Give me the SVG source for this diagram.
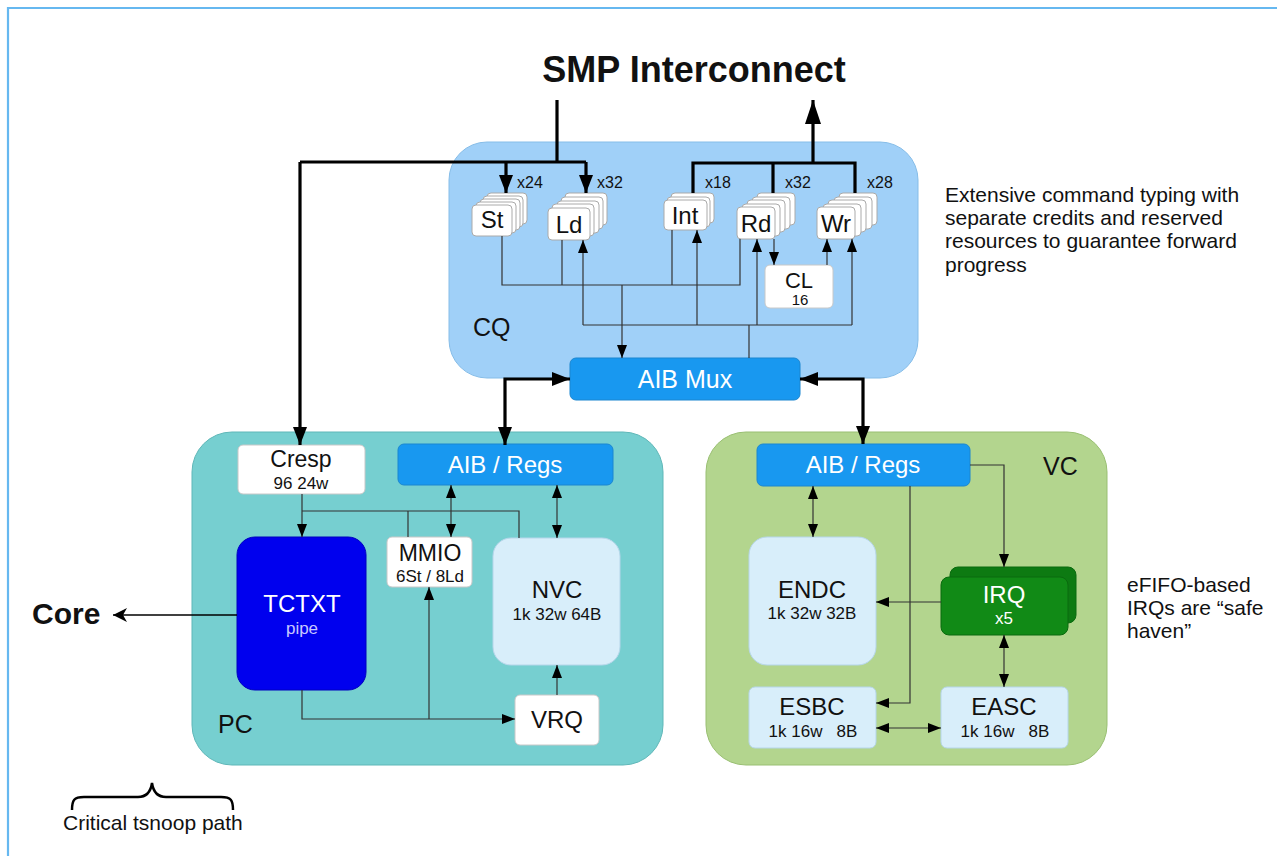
<svg xmlns="http://www.w3.org/2000/svg" width="1277" height="856" viewBox="0 0 1277 856">
<style>
text{font-family:"Liberation Sans",Arial,Helvetica,sans-serif;fill:#111}
.c{text-anchor:middle}
.w{fill:#fff}
.big{font-size:24px}
.sub{font-size:17px}
.thin{stroke:#333;stroke-width:1.2;fill:none}
.thick{stroke:#000;stroke-width:3.2;fill:none}
.wbox{fill:#fff;stroke:#c8c8c8;stroke-width:1}
.lbox{fill:#d8eefa;stroke:#b6d6ea;stroke-width:1}
.aib{fill:#1898f0;stroke:#1a86d0;stroke-width:1}
.q{fill:#fff;stroke:#aaa;stroke-width:1}
.note{font-size:21px}
</style>
<defs>
<marker id="a" markerUnits="userSpaceOnUse" markerWidth="13" markerHeight="10" refX="13" refY="5" orient="auto-start-reverse"><path d="M0,0 L13,5 L0,10 z" fill="#000"/></marker>
<marker id="b" markerUnits="userSpaceOnUse" markerWidth="18" markerHeight="14" refX="18" refY="7" orient="auto-start-reverse"><path d="M0,0 L18,7 L0,14 z" fill="#000"/></marker>
<marker id="c" markerUnits="userSpaceOnUse" markerWidth="24" markerHeight="16" refX="24" refY="8" orient="auto-start-reverse"><path d="M0,0 L24,8 L0,16 z" fill="#000"/></marker>
<marker id="k" markerUnits="userSpaceOnUse" markerWidth="14" markerHeight="14" refX="14" refY="7" orient="auto"><path d="M0,0 L14,7 L0,14 L4,7 z" fill="#000"/></marker>
</defs>

<path id="frame" d="M8,856 V8 H1277" stroke="#66b8f0" stroke-width="2.2" fill="none"/>

<g id="titles">
<text x="694" y="82" class="c" style="font-size:36px;font-weight:bold">SMP Interconnect</text>
<text x="32" y="624" style="font-size:30px;font-weight:bold">Core</text>
</g>

<g id="CQ">
<rect x="449" y="142" width="469" height="236" rx="38" fill="#a0d0f8" stroke="#86bde8" stroke-width="1"/>
<text x="473" y="336" style="font-size:25px">CQ</text>
</g>

<g id="PC">
<rect x="192" y="432" width="471" height="333" rx="40" fill="#76cfd0" stroke="#5fb7b8" stroke-width="1"/>
<text x="218" y="733" style="font-size:25px">PC</text>
</g>

<g id="VC">
<rect x="706" y="432" width="401" height="333" rx="40" fill="#b3d58e" stroke="#99bf72" stroke-width="1"/>
<text x="1043" y="475" style="font-size:25px">VC</text>
</g>

<g id="St">
<rect class="q" x="487" y="193" width="40" height="31" rx="4"/>
<rect class="q" x="483" y="196" width="40" height="31" rx="4"/>
<rect class="q" x="480" y="199" width="40" height="31" rx="4"/>
<rect class="q" x="476" y="202" width="40" height="31" rx="4"/>
<rect class="q" x="472" y="205" width="40" height="31" rx="4"/>
<text x="492" y="228" class="c big">St</text>
<text x="517" y="188" style="font-size:16px">x24</text>
</g>
<g id="Ld">
<rect class="q" x="565" y="193" width="42" height="32" rx="4"/>
<rect class="q" x="561" y="197" width="42" height="32" rx="4"/>
<rect class="q" x="557" y="201" width="42" height="32" rx="4"/>
<rect class="q" x="552" y="204" width="42" height="32" rx="4"/>
<rect class="q" x="548" y="208" width="42" height="32" rx="4"/>
<text x="569" y="233" class="c big">Ld</text>
<text x="597" y="188" style="font-size:16px">x32</text>
</g>
<g id="Int">
<rect class="q" x="671" y="193" width="43" height="30" rx="4"/>
<rect class="q" x="667" y="197" width="43" height="30" rx="4"/>
<rect class="q" x="664" y="200" width="43" height="30" rx="4"/>
<text x="685" y="224" class="c big">Int</text>
<text x="705" y="188" style="font-size:16px">x18</text>
</g>
<g id="Rd">
<rect class="q" x="757" y="193" width="38" height="32" rx="4"/>
<rect class="q" x="752" y="197" width="38" height="32" rx="4"/>
<rect class="q" x="747" y="200" width="38" height="32" rx="4"/>
<rect class="q" x="742" y="204" width="38" height="32" rx="4"/>
<rect class="q" x="737" y="207" width="38" height="32" rx="4"/>
<text x="756" y="232" class="c big">Rd</text>
<text x="785" y="188" style="font-size:16px">x32</text>
</g>
<g id="Wr">
<rect class="q" x="839" y="193" width="38" height="32" rx="4"/>
<rect class="q" x="834" y="197" width="38" height="32" rx="4"/>
<rect class="q" x="828" y="200" width="38" height="32" rx="4"/>
<rect class="q" x="823" y="204" width="38" height="32" rx="4"/>
<rect class="q" x="817" y="207" width="38" height="32" rx="4"/>
<text x="836" y="232" class="c big">Wr</text>
<text x="867" y="188" style="font-size:16px">x28</text>
</g>
<g id="CL">
<rect class="wbox" x="765" y="265" width="68" height="43" rx="5"/>
<text x="799" y="288" class="c" style="font-size:22px">CL</text>
<text x="800" y="305" class="c" style="font-size:15px">16</text>
</g>
<g id="AIBMux">
<rect class="aib" x="570" y="358" width="230" height="42" rx="6"/>
<text x="685" y="388" class="c w" style="font-size:25px">AIB Mux</text>
</g>

<g id="Cresp">
<rect class="wbox" x="238" y="445" width="127" height="49" rx="5"/>
<text x="301" y="467" class="c" style="font-size:23px">Cresp</text>
<text x="301" y="489" class="c sub">96 24w</text>
</g>
<g id="PCAIB">
<rect class="aib" x="398" y="444" width="215" height="41" rx="6"/>
<text x="505" y="473" class="c w" style="font-size:24px">AIB / Regs</text>
</g>
<g id="TCTXT">
<rect x="237" y="537" width="129" height="153" rx="18" fill="#0000ee" stroke="#0000c0" stroke-width="1"/>
<text x="302" y="612" class="c w" style="font-size:24px">TCTXT</text>
<text x="302" y="634" class="c" style="font-size:17px;fill:#c8c8ff">pipe</text>
</g>
<g id="MMIO">
<rect class="wbox" x="387" y="537" width="85" height="50" rx="5"/>
<text x="430" y="561" class="c" style="font-size:23px">MMIO</text>
<text x="430" y="582" class="c sub">6St / 8Ld</text>
</g>
<g id="NVC">
<rect class="lbox" x="493" y="538" width="127" height="127" rx="18"/>
<text x="557" y="598" class="c big">NVC</text>
<text x="557" y="620" class="c sub">1k 32w 64B</text>
</g>
<g id="VRQ">
<rect class="wbox" x="515" y="695" width="84" height="50" rx="5"/>
<text x="557" y="728" class="c big">VRQ</text>
</g>

<g id="VCAIB">
<rect class="aib" x="757" y="444" width="213" height="42" rx="6"/>
<text x="863" y="473" class="c w" style="font-size:24px">AIB / Regs</text>
</g>
<g id="ENDC">
<rect class="lbox" x="749" y="537" width="127" height="128" rx="18"/>
<text x="812" y="598" class="c big">ENDC</text>
<text x="812" y="619" class="c sub">1k 32w 32B</text>
</g>
<g id="IRQ">
<rect x="950" y="567" width="126" height="56" rx="8" fill="#0d7a12" stroke="#0a6a0e" stroke-width="1"/>
<rect x="941" y="577" width="127" height="58" rx="8" fill="#118a16" stroke="#0a6a0e" stroke-width="1"/>
<text x="1004" y="603" class="c w" style="font-size:24px">IRQ</text>
<text x="1004" y="624" class="c w sub">x5</text>
</g>
<g id="ESBC">
<rect class="lbox" x="749" y="687" width="127" height="61" rx="6"/>
<text x="812" y="715" class="c big">ESBC</text>
<text x="813" y="737" class="c sub" xml:space="preserve">1k 16w   8B</text>
</g>
<g id="EASC">
<rect class="lbox" x="941" y="687" width="127" height="61" rx="6"/>
<text x="1004" y="715" class="c big">EASC</text>
<text x="1005" y="737" class="c sub" xml:space="preserve">1k 16w   8B</text>
</g>

<g id="connectors">
<path class="thick" d="M557,100 V162"/>
<path class="thick" d="M300,162 H586"/>
<path class="thick" d="M506,162 V193" marker-end="url(#b)"/>
<path class="thick" d="M586,162 V193" marker-end="url(#b)"/>
<path class="thick" d="M300,162 V445" marker-end="url(#b)"/>
<path class="thick" d="M693,193 V163 H855 V193"/>
<path class="thick" d="M773,163 V193"/>
<path class="thick" d="M813,163 V100" marker-end="url(#c)"/>
<path class="thick" d="M505,445 V379 H570" marker-start="url(#b)" marker-end="url(#b)"/>
<path class="thick" d="M863,444 V379 H800" marker-start="url(#b)" marker-end="url(#b)"/>

<path class="thin" d="M502,236 V285 H740 V239"/>
<path class="thin" d="M562,240 V285"/>
<path class="thin" d="M672,230 V285"/>
<path class="thin" d="M622,285 V358" marker-end="url(#a)"/>
<path class="thin" d="M749,358 V325"/>
<path class="thin" d="M583,325 H852"/>
<path class="thin" d="M583,325 V240" marker-end="url(#a)"/>
<path class="thin" d="M697,325 V230" marker-end="url(#a)"/>
<path class="thin" d="M757,325 V239" marker-end="url(#a)"/>
<path class="thin" d="M852,325 V239" marker-end="url(#a)"/>
<path class="thin" d="M774,239 V265" marker-end="url(#a)"/>
<path class="thin" d="M827,265 V239" marker-end="url(#a)"/>

<path class="thin" d="M302,494 V537" marker-end="url(#a)"/>
<path class="thin" d="M302,511 H519 V538"/>
<path class="thin" d="M408,511 V537"/>
<path class="thin" d="M451,485 V537" marker-start="url(#a)" marker-end="url(#a)"/>
<path class="thin" d="M557,485 V538" marker-start="url(#a)" marker-end="url(#a)"/>
<path class="thin" d="M302,690 V719 H515" marker-end="url(#a)"/>
<path class="thin" d="M429,719 V587" marker-end="url(#a)"/>
<path class="thin" d="M557,695 V665" marker-end="url(#a)"/>
<path d="M237,615 H113" stroke="#000" stroke-width="1.3" fill="none" marker-end="url(#k)"/>

<path class="thin" d="M813,486 V537" marker-start="url(#a)" marker-end="url(#a)"/>
<path class="thin" d="M910,486 V703 H876" marker-end="url(#a)"/>
<path class="thin" d="M970,465 H1004 V567" marker-end="url(#a)"/>
<path class="thin" d="M941,602 H876" marker-end="url(#a)"/>
<path class="thin" d="M1004,635 V687" marker-start="url(#a)" marker-end="url(#a)"/>
<path class="thin" d="M876,728 H941" marker-start="url(#a)" marker-end="url(#a)"/>
</g>

<g id="notes">
<text x="945" y="202" class="note">Extensive command typing with</text>
<text x="945" y="225" class="note">separate credits and reserved</text>
<text x="945" y="248" class="note">resources to guarantee forward</text>
<text x="945" y="272" class="note">progress</text>
<text x="1127" y="592" class="note">eFIFO-based</text>
<text x="1127" y="615" class="note">IRQs are “safe</text>
<text x="1127" y="638" class="note">haven”</text>
<path id="brace" d="M72,810 C72,800 74,797 84,797 L138,797 C148,797 151,790 152,783 C153,790 156,797 166,797 L221,797 C231,797 233,800 233,810" stroke="#000" stroke-width="2.5" fill="none"/>
<text x="63" y="830" style="font-size:21px">Critical tsnoop path</text>
</g>
</svg>
